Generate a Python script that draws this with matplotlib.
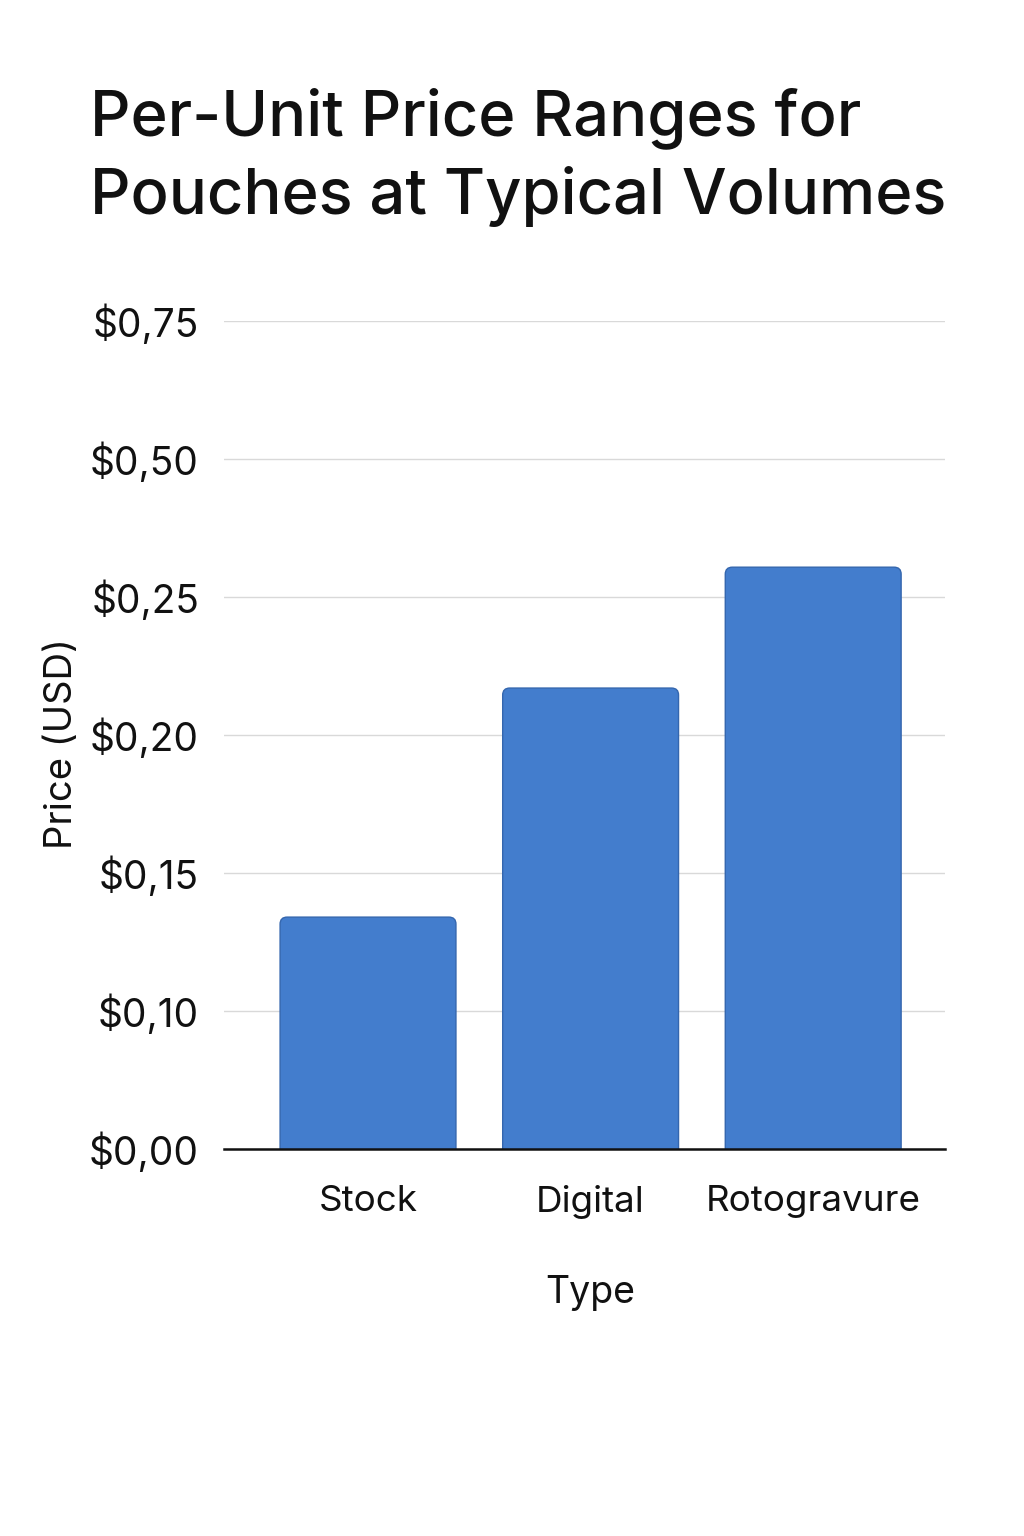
import numpy as np
import matplotlib
matplotlib.use('Agg')
import matplotlib.pyplot as plt
from matplotlib.patches import FancyBboxPatch
from matplotlib.transforms import IdentityTransform

# data
types = ['Stock', 'Digital', 'Rotogravure']
prices = [0.134, 0.217, 0.304]

# the y axis in the reference has uneven steps, evenly spaced
tick_values = [0.00, 0.10, 0.15, 0.20, 0.25, 0.50, 0.75]
tick_labels = ['$0,00', '$0,10', '$0,15', '$0,20', '$0,25', '$0,50', '$0,75']

plt.rcParams['font.family'] = ['Inter', 'DejaVu Sans']

tick_idx = np.arange(len(tick_values), dtype=float)


def forward(v):
    return np.interp(v, tick_values, tick_idx)


def inverse(i):
    return np.interp(i, tick_idx, tick_values)


fig = plt.figure(figsize=(10.24, 15.36), dpi=100)
ax = fig.add_axes([0.21875, 0.252, 0.7043, 0.539])

ax.set_yscale('function', functions=(forward, inverse))
bars = ax.bar(np.arange(len(types)), prices, width=0.79, color='#437DCD',
              edgecolor='#3466AE', linewidth=1.0, zorder=3)

ax.set_ylim(0, 0.75)
ax.set_xlim(-0.647, 2.593)
ax.set_yticks(tick_values)
ax.set_yticklabels(tick_labels)
ax.set_xticks(np.arange(len(types)))
ax.set_xticklabels(types)

ax.grid(axis='y', color='#d9d9d9', linewidth=1.0, zorder=0)
ax.tick_params(axis='y', length=0, pad=18, labelsize=28, labelcolor='#111111')
ax.tick_params(axis='x', length=0, pad=26, labelsize=26.5, labelcolor='#111111')
ax.minorticks_off()

for side in ['left', 'right', 'top']:
    ax.spines[side].set_visible(False)
ax.spines['bottom'].set_linewidth(1.8)
ax.spines['bottom'].set_color('#111111')
ax.spines['bottom'].set_zorder(4)

ax.set_xlabel('Type', fontsize=27, color='#111111')
ax.set_ylabel('Price (USD)', fontsize=27.5, color='#111111')
ax.yaxis.set_label_coords(-0.199, 0.49)
ax.xaxis.set_label_coords(0.508, -0.152)

fig.text(0.088, 0.943, 'Per-Unit Price Ranges for\nPouches at Typical Volumes',
         fontsize=45.5, fontweight='medium', color='#111111',
         ha='left', va='top', linespacing=1.34)

# round the top corners: redraw each bar as a rounded box in pixel space,
# pushed a little below the axis so the bottom corners stay square (clipped)
fig.canvas.draw()
for rect in bars:
    bb = rect.get_window_extent()
    box = FancyBboxPatch((bb.x0, bb.y0 - 12), bb.width, bb.height + 12,
                         boxstyle='round,pad=0,rounding_size=7',
                         transform=IdentityTransform(),
                         facecolor='#437DCD', edgecolor='#3466AE',
                         linewidth=1.0, zorder=3)
    ax.add_patch(box)
    rect.set_visible(False)

fig.savefig('out.png', dpi=100, facecolor='white')
